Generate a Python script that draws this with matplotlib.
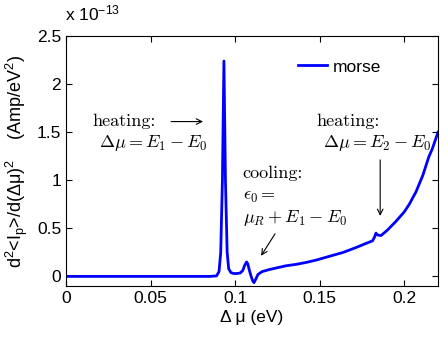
import matplotlib
matplotlib.use("Agg")
import matplotlib.pyplot as plt

plt.rcParams['font.family'] = ['Liberation Sans', 'DejaVu Sans']
plt.rcParams['mathtext.fontset'] = 'custom'
plt.rcParams['mathtext.rm'] = 'Liberation Sans'
plt.rcParams['mathtext.it'] = 'Liberation Sans:italic'

# Delta mu (eV) and d2<Ip>/d(dmu)2 in units of 1e-13 Amp/eV^2
dmu = [0, 0.085, 0.089, 0.0905, 0.0915, 0.0925, 0.0934, 0.0943, 0.0953, 0.0962,
       0.0975, 0.099, 0.101, 0.103, 0.1045, 0.1058, 0.1068, 0.1075, 0.1085,
       0.1095, 0.1105, 0.1112, 0.1122, 0.1135, 0.116, 0.12, 0.125, 0.13, 0.136,
       0.142, 0.148, 0.156, 0.164, 0.1715, 0.177, 0.1813, 0.1825, 0.1833,
       0.1843, 0.1863, 0.19, 0.195, 0.2, 0.203, 0.207, 0.211, 0.2145, 0.2167, 0.22]
morse = [0, 0, 0.005, 0.05, 0.25, 1.0, 2.24, 1.0, 0.25, 0.08,
         0.04, 0.03, 0.03, 0.035, 0.06, 0.12, 0.15, 0.13, 0.06,
         0.0, -0.05, -0.065, -0.03, 0.02, 0.05, 0.07, 0.09, 0.11, 0.125,
         0.145, 0.17, 0.21, 0.25, 0.30, 0.34, 0.37, 0.41, 0.45,
         0.43, 0.425, 0.48, 0.57, 0.67, 0.75, 0.88, 1.05, 1.24, 1.33, 1.5]

xticks = [0, 0.05, 0.1, 0.15, 0.2]
yticks = [0, 0.5, 1, 1.5, 2, 2.5]

fig = plt.figure(figsize=(4.48, 3.37), dpi=100)
ax = fig.add_axes([0.1473, 0.1513, 0.8304, 0.7419])

ax.plot(dmu, morse, color=(0, 0, 1), linewidth=2, label='morse')

ax.set_xlim(0, 0.22)
ax.set_ylim(-0.1, 2.5)
ax.set_xticks(xticks)
ax.set_xticklabels(['0', '0.05', '0.1', '0.15', '0.2'])
ax.set_yticks(yticks)
ax.set_yticklabels(['0', '0.5', '1', '1.5', '2', '2.5'])
ax.tick_params(direction='in', top=True, right=True, labelsize=12.5, length=4)

ax.set_xlabel('Δ μ (eV)', fontsize=12.5, labelpad=3)
ax.set_ylabel(r'd$^2$<I$_{\rm p}$>/d(Δμ)$^2$    (Amp/eV$^2$)', fontsize=13, labelpad=5)
fig.text(0.145, 0.96, r'x 10$^{-13}$', fontsize=12.5, va='center')

ax.legend(loc='center left', bbox_to_anchor=(0.6, 0.876), frameon=False,
          fontsize=12.5, borderpad=0, handlelength=1.7, handletextpad=0.3)

tkw = dict(fontsize=13, math_fontfamily='cm')
ax.text(0.0159, 1.61, 'heating:', va='center', fontfamily='cmr10', fontsize=13)
ax.text(0.0195, 1.39, r'$\Delta\mu = E_1 - E_0$', va='center', **tkw)
ax.annotate('', xy=(0.0827, 1.61), xytext=(0.0605, 1.61),
            arrowprops=dict(arrowstyle='->', color='black', lw=0.8))

ax.text(0.1044, 1.07, 'cooling:', va='center', fontfamily='cmr10', fontsize=13)
ax.text(0.1044, 0.83, r'$\epsilon_0 =$', va='center', **tkw)
ax.text(0.1044, 0.61, r'$\mu_R + E_1 - E_0$', va='center', **tkw)
ax.annotate('', xy=(0.1145, 0.19), xytext=(0.1245, 0.467),
            arrowprops=dict(arrowstyle='->', color='black', lw=0.8))

ax.text(0.148, 1.61, 'heating:', va='center', fontfamily='cmr10', fontsize=13)
ax.text(0.152, 1.39, r'$\Delta\mu = E_2 - E_0$', va='center', **tkw)
ax.annotate('', xy=(0.1858, 0.6), xytext=(0.1858, 1.24),
            arrowprops=dict(arrowstyle='->', color='black', lw=0.8))

fig.savefig('out.png', dpi=100)
